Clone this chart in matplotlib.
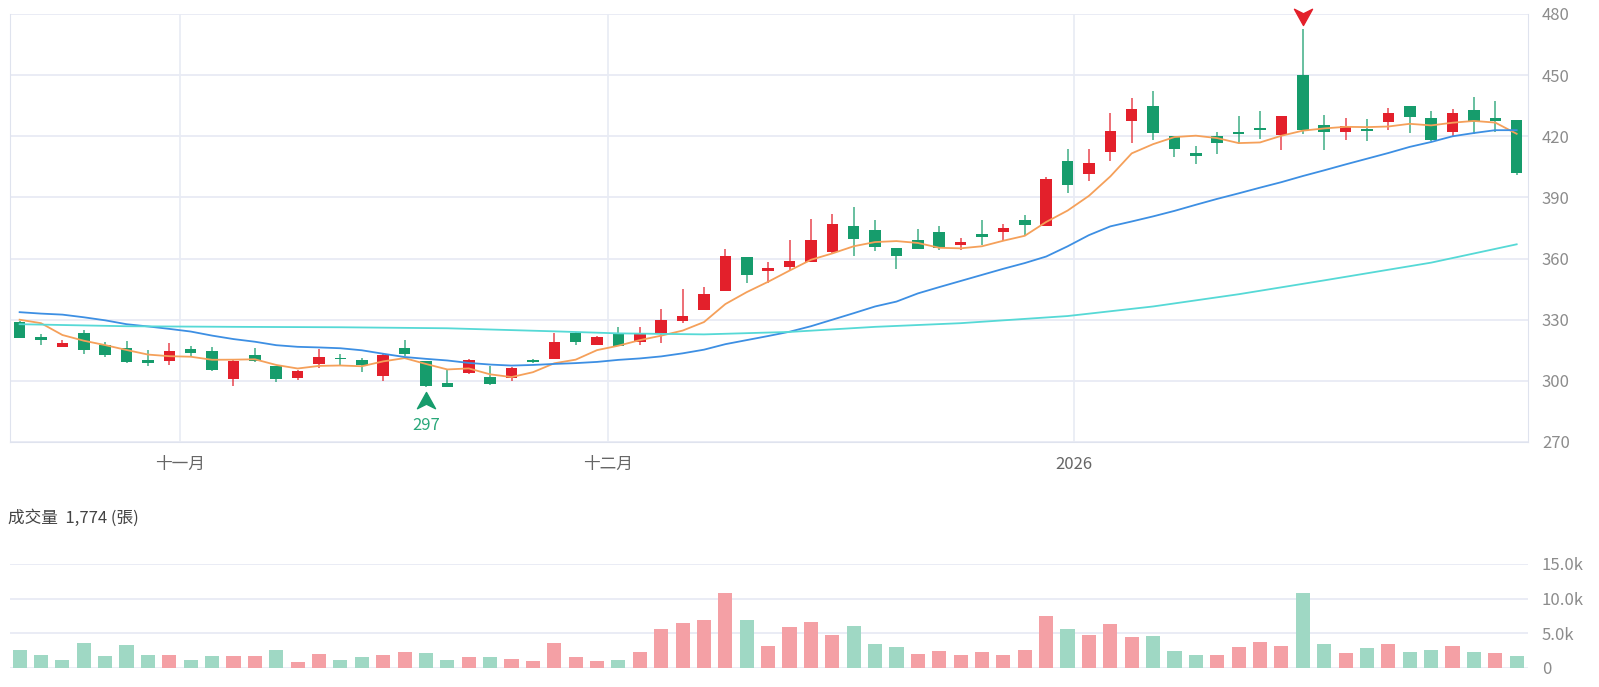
import numpy as np
import matplotlib
matplotlib.use('Agg')
import matplotlib.pyplot as plt
from matplotlib.path import Path
from matplotlib.transforms import offset_copy

plt.rcParams['font.family'] = ['Noto Sans CJK TC', 'DejaVu Sans']

# daily candles, 2025-10 .. 2026-01
opens = [328.7, 321.7, 316.7, 323.7, 317.8, 316.2, 310.0, 309.7, 315.7, 314.7,
         300.8, 312.5, 307.2, 301.3, 308.3, 311.0, 310.0, 302.5, 316.3, 309.5,
         299.0, 303.8, 301.7, 301.3, 310.2, 310.5, 323.7, 317.5, 322.8, 319.3,
         323.6, 329.5, 334.9, 344.0, 360.9, 353.8, 355.8, 358.5, 363.3, 375.9,
         374.2, 365.1, 369.3, 373.0, 366.7, 372.0, 373.0, 378.7, 375.8, 408.1,
         401.5, 412.3, 427.7, 434.8, 420.3, 412.0, 420.3, 422.1, 424.3, 420.5,
         450.0, 425.7, 422.1, 423.3, 427.0, 434.9, 429.0, 422.1, 433.1, 429.0,
         427.9]
highs = [329.5, 323.0, 320.0, 325.0, 319.2, 319.5, 315.0, 318.8, 317.2, 316.7,
         310.5, 316.3, 307.5, 305.2, 315.8, 313.3, 311.2, 313.3, 320.0, 309.5,
         305.5, 310.8, 307.5, 307.0, 310.8, 323.7, 324.2, 322.0, 326.3, 326.3,
         335.3, 345.3, 346.1, 364.9, 360.9, 358.2, 368.9, 379.4, 381.8, 385.5,
         378.7, 365.1, 374.6, 375.8, 370.0, 378.7, 377.1, 381.2, 399.9, 413.6,
         413.6, 431.6, 438.6, 442.3, 420.3, 415.3, 422.0, 430.0, 432.5, 430.0,
         472.5, 430.3, 429.0, 428.5, 434.1, 434.9, 432.6, 433.3, 439.3, 437.2,
         427.9]
lows = [321.0, 317.5, 316.5, 313.0, 311.7, 309.0, 307.2, 307.8, 312.2, 305.0,
        297.5, 309.2, 299.2, 300.5, 306.3, 307.8, 304.2, 300.0, 312.2, 296.8,
        297.0, 303.3, 297.8, 300.0, 308.8, 310.5, 317.8, 317.5, 317.2, 317.7,
        318.8, 328.4, 334.9, 344.0, 348.2, 348.2, 354.5, 358.5, 362.7, 361.4,
        363.8, 355.0, 364.5, 364.4, 364.2, 366.8, 368.8, 371.7, 375.8, 392.1,
        398.3, 408.1, 416.9, 418.4, 410.0, 406.4, 411.2, 416.1, 418.9, 413.4,
        421.0, 413.4, 418.4, 417.9, 423.3, 421.6, 417.9, 420.0, 421.3, 422.1,
        400.9]
closes = [321.2, 320.0, 318.7, 315.0, 312.8, 309.2, 308.8, 314.7, 313.7, 305.3,
          309.5, 309.7, 300.8, 305.0, 311.7, 310.5, 307.8, 312.8, 313.0, 297.3,
          297.1, 310.3, 298.3, 306.3, 309.2, 319.0, 319.2, 321.7, 317.2, 322.8,
          330.0, 331.6, 342.6, 361.4, 352.1, 355.4, 359.0, 369.1, 377.0, 369.7,
          365.7, 361.4, 364.5, 365.2, 368.3, 370.8, 375.0, 376.6, 399.1, 396.2,
          407.0, 422.6, 433.2, 421.7, 413.6, 410.4, 416.6, 421.0, 423.3, 430.0,
          422.9, 422.1, 424.9, 422.6, 431.5, 429.5, 418.2, 431.5, 427.0, 427.4,
          402.0]
volumes = [2630, 1820, 1190, 3580, 1670, 3300, 1910, 1860, 1100, 1720,
           1720, 1670, 2630, 810, 2010, 1100, 1580, 1910, 2340, 2100,
           1150, 1530, 1620, 1340, 1050, 3580, 1530, 1050, 1100, 2340,
           5690, 6450, 6930, 10800, 6930, 3110, 5880, 6640, 4730, 6070,
           3390, 3060, 2050, 2440, 1860, 2340, 1910, 2580, 7450, 5690,
           4730, 6350, 4490, 4680, 2440, 1860, 1860, 2960, 3770, 3110,
           10750, 3490, 2150, 2910, 3440, 2290, 2530, 3150, 2250, 2100,
           1774]

# moving averages (MA5 start, MA20, MA60 knots)
ma5_head = [330.0, 328.3, 322.5, 319.7]
ma20 = [333.7, 333.0, 332.5, 331.2, 329.7, 327.8, 326.7, 325.5, 324.2, 322.2,
        320.5, 319.2, 317.5, 316.7, 316.4, 316.0, 315.0, 313.3, 311.7, 310.8,
        310.0, 308.8, 308.0, 307.5, 307.8, 308.3, 308.7, 309.3, 310.3, 311.0,
        312.0, 313.5, 315.3, 318.0, 320.0, 322.0, 324.1, 326.8, 330.0, 333.2,
        336.5, 338.9, 342.9, 346.0, 349.0, 352.0, 355.0, 357.8, 361.0, 366.0,
        371.5, 375.8, 378.2, 380.7, 383.4, 386.4, 389.3, 392.0, 394.8, 397.5,
        400.5, 403.3, 406.2, 409.0, 411.8, 414.8, 417.2, 420.0, 421.6, 423.0,
        423.0]
ma60_idx = [0, 5, 10, 15, 20, 25, 28, 32, 36, 40, 44, 49, 53, 57, 61, 66, 70]
ma60_val = [327.8, 326.8, 326.5, 326.3, 325.8, 324.3, 323.3, 322.8, 324.0, 326.5,
            328.3, 331.8, 336.5, 342.5, 349.3, 358.0, 367.0]

month_pos = [7.5, 27.5, 49.3]
month_labels = ['十一月', '十二月', '2026']
price_ticks = [270, 300, 330, 360, 390, 420, 450, 480]
vol_ticks = [0, 5000, 10000, 15000]
vol_labels = ['0', '5.0k', '10.0k', '15.0k']

RED = '#e3202b'
GREEN = '#169c6c'
GRID = '#e8ebf4'
TXT = '#8c8c8c'

o = np.array(opens); h = np.array(highs); l = np.array(lows); c = np.array(closes)
n = len(c)
x = np.arange(n)
up = c >= o
cols = np.where(up, RED, GREEN)

ma5 = np.convolve(c, np.ones(5) / 5, mode='valid')
ma5 = np.concatenate([ma5_head, ma5])

prev = np.concatenate([[o[0]], c[:-1]])
vol_cols = np.where(c >= prev, '#f4a0a5', '#9fd8c4')

fig = plt.figure(figsize=(15.99, 6.87), dpi=100)
ax = fig.add_axes([10 / 1599, 1 - 442 / 687, 1518 / 1599, 428 / 687])
axv = fig.add_axes([10 / 1599, 1 - 668 / 687, 1518 / 1599, 104 / 687])

# price panel
ax.vlines(x, l, h, colors=cols, lw=1.4, alpha=0.65, zorder=2)
body = np.maximum(np.abs(c - o), 0.8)
ax.bar(x, body, bottom=np.minimum(o, c), width=0.54, color=cols, zorder=3)
ax.plot(x, ma5, color='#f5a05a', lw=1.3, zorder=4)
ax.plot(x, ma20, color='#3d8fe3', lw=1.3, zorder=4)
ax.plot(ma60_idx, ma60_val, color='#56d9d6', lw=1.3, zorder=4)

for p in month_pos:
    ax.axvline(p, color=GRID, lw=1.2, zorder=0)
ax.set_xlim(-0.45, 70.53)
ax.set_ylim(270, 480)
ax.set_yticks(price_ticks)
ax.yaxis.tick_right()
ax.grid(axis='y', color=GRID, lw=1.3, zorder=0)
ax.set_axisbelow(True)
ax.set_xticks(month_pos, month_labels)
ax.tick_params(axis='both', length=0, colors=TXT, labelsize=12)
ax.tick_params(axis='x', pad=10, colors='#666666')
ax.tick_params(axis='y', pad=10)
for s in ['left', 'right', 'bottom']:
    ax.spines[s].set_color('#dfe3ee')
ax.spines['top'].set_visible(False)

# high / low markers
arrow = Path([(0, 1), (1, -0.8), (0, -0.3), (-1, -0.8), (0, 1)],
             [Path.MOVETO, Path.LINETO, Path.LINETO, Path.LINETO, Path.CLOSEPOLY])
arrow_dn = Path([(0, -1), (1, 0.8), (0, 0.3), (-1, 0.8), (0, -1)],
                [Path.MOVETO, Path.LINETO, Path.LINETO, Path.LINETO, Path.CLOSEPOLY])
i_lo = int(np.argmin(l))
i_hi = int(np.argmax(h))
tr_lo = offset_copy(ax.transData, fig=fig, y=-14, units='dots')
ax.plot(i_lo, l[i_lo], marker=arrow, ms=13, color=GREEN, transform=tr_lo,
        clip_on=False, zorder=5)
tr_txt = offset_copy(ax.transData, fig=fig, y=-38, units='dots')
ax.text(i_lo, l[i_lo], f'{l[i_lo]:.0f}', transform=tr_txt, ha='center', va='center',
        fontsize=12, color='#2aa87a')
tr_hi = offset_copy(ax.transData, fig=fig, y=13, units='dots')
ax.plot(i_hi, h[i_hi], marker=arrow_dn, ms=13, color=RED, transform=tr_hi,
        clip_on=False, zorder=5)

# volume panel
axv.bar(x, volumes, width=0.66, color=vol_cols, zorder=3)
axv.set_xlim(-0.45, 70.53)
axv.set_ylim(0, 15000)
axv.set_yticks(vol_ticks, vol_labels)
axv.yaxis.tick_right()
axv.grid(axis='y', color=GRID, lw=1.3, zorder=0)
axv.set_xticks([])
axv.tick_params(axis='y', length=0, colors=TXT, labelsize=12, pad=10)
for s in axv.spines.values():
    s.set_visible(False)

fig.text(8 / 1599, 1 - 518 / 687, f'成交量  {volumes[-1]:,} (張)', ha='left', va='center',
         fontsize=12, color='#444444')

fig.savefig('out.png', dpi=100)
